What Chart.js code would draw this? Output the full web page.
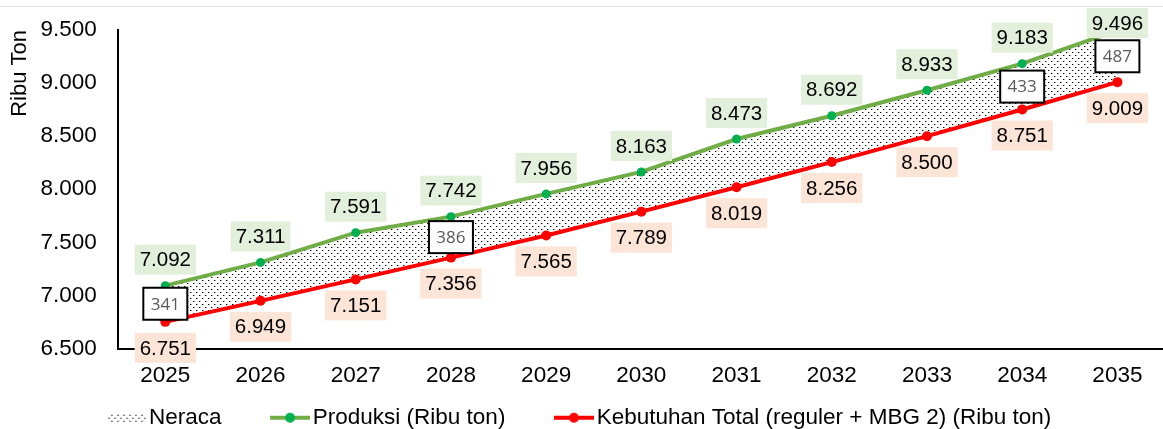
<!DOCTYPE html>
<html>
<head>
<meta charset="utf-8">
<title>Neraca Produksi dan Kebutuhan</title>
<script src="https://cdn.jsdelivr.net/npm/chart.js@4.4.1/dist/chart.umd.min.js"></script>
<style>
  html, body { margin: 0; padding: 0; background: #fff; overflow: hidden; }
  #wrap { position: relative; width: 1163px; height: 429px; overflow: hidden; }
  #garisAtas { position: absolute; left: 0; right: 0; top: 6px; border-top: 1px solid #e8e8e8; }
</style>
</head>
<body>
<div id="wrap">
  <div id="garisAtas"></div>
  <!-- kanvas sedikit lebih lebar: sumbu x di grafik asli terpotong di tepi kanan -->
  <canvas id="chartNeraca" width="1170" height="429"></canvas>
</div>
<script>
// ================= DATA =================
const tahun = ['2025', '2026', '2027', '2028', '2029', '2030', '2031', '2032', '2033', '2034', '2035'];
const produksi = [7092, 7311, 7591, 7742, 7956, 8163, 8473, 8692, 8933, 9183, 9496];
const kebutuhan = [6751, 6949, 7151, 7356, 7565, 7789, 8019, 8256, 8500, 8751, 9009];
// selisih yang diberi kotak pada grafik asli (tahun lain tidak diberi label)
const neraca = [341, null, null, 386, null, null, null, null, null, 433, 487];

const HIJAU_GARIS = '#70ad47';
const HIJAU_TITIK = '#00b050';
const MERAH = '#ff0000';

const PAD_LEG = 4;      // padding legend
const LEBAR_SIMBOL = 76; // pointStyleWidth legend

Chart.defaults.font.family = '"Liberation Sans", Arial, sans-serif';
Chart.defaults.color = '#000';

// format angka ribuan pakai titik: 7092 -> 7.092
function fmt(v) {
  return String(v).replace(/\B(?=(\d{3})+(?!\d))/g, '.');
}

// ================= POLA TITIK (NERACA) =================
function buatPola() {
  const c = document.createElement('canvas');
  c.width = 6; c.height = 6;
  const g = c.getContext('2d');
  g.fillStyle = '#fff';
  g.fillRect(0, 0, 6, 6);
  g.fillStyle = '#000';
  g.fillRect(1, 1, 1, 1);
  g.fillRect(4, 4, 1, 1);
  g.fillStyle = 'rgba(0,0,0,0.35)';
  g.fillRect(2, 1, 1, 1);
  g.fillRect(5, 4, 1, 1);
  return c;
}
const polaCanvas = buatPola();
const pola = polaCanvas.getContext('2d').createPattern(polaCanvas, 'repeat');

// simbol legend: isi digambar di sisi kanan supaya ada jarak antar item
const lebarGambar = Math.round(LEBAR_SIMBOL + 16.5);
function simbolNeraca() {
  const c = document.createElement('canvas');
  c.width = lebarGambar; c.height = 14;
  const g = c.getContext('2d');
  g.fillStyle = g.createPattern(polaCanvas, 'repeat');
  g.fillRect(lebarGambar - 39, 3, 39, 8);
  return c;
}
function simbolGaris(warnaGaris, warnaTitik) {
  const c = document.createElement('canvas');
  c.width = lebarGambar; c.height = 14;
  const g = c.getContext('2d');
  g.strokeStyle = warnaGaris;
  g.lineWidth = 4;
  g.beginPath();
  g.moveTo(lebarGambar - 40, 7);
  g.lineTo(lebarGambar, 7);
  g.stroke();
  g.fillStyle = warnaTitik;
  g.beginPath();
  g.arc(lebarGambar - 20, 7, 5, 0, Math.PI * 2);
  g.fill();
  return c;
}
const simbol = [simbolNeraca(), simbolGaris(HIJAU_GARIS, HIJAU_TITIK), simbolGaris(MERAH, MERAH)];

// ================= LABEL NILAI =================
function kotakLabel(ctx, teks, x, y, warna) {
  const w = ctx.measureText(teks).width + 10;
  const h = 30;
  ctx.fillStyle = warna;
  ctx.fillRect(x - w / 2, y - h / 2, w, h);
  ctx.fillStyle = '#000';
  ctx.fillText(teks, x, y + 1);
}

const labelPlugin = {
  id: 'labelNilai',
  afterLayout(chart) {
    // geser legend sedikit ke kiri seperti grafik asli
    chart.legend.left -= 57;
  },
  afterDatasetsDraw(chart) {
    const ctx = chart.ctx;
    const metaP = chart.getDatasetMeta(1);
    const metaK = chart.getDatasetMeta(2);
    ctx.save();
    ctx.textAlign = 'center';
    ctx.textBaseline = 'middle';
    ctx.font = '20.5px "Liberation Sans", Arial, sans-serif';

    tahun.forEach((t, i) => {
      const p = metaP.data[i];
      const k = metaK.data[i];
      kotakLabel(ctx, fmt(produksi[i]), p.x, Math.max(p.y - 26, 23), '#e2efda');
      kotakLabel(ctx, fmt(kebutuhan[i]), k.x, k.y + 26, '#fce4d6');
    });

    // kotak selisih neraca
    ctx.font = '17px "Open Sans", "DejaVu Sans", sans-serif';
    neraca.forEach((n, i) => {
      if (n === null) return;
      const p = metaP.data[i];
      const k = metaK.data[i];
      const cx = p.x;
      const cy = (p.y + k.y) / 2;
      ctx.fillStyle = '#fff';
      ctx.fillRect(cx - 22, cy - 16, 44, 32);
      ctx.strokeStyle = '#000';
      ctx.lineWidth = 2;
      ctx.strokeRect(cx - 22, cy - 16, 44, 32);
      ctx.fillStyle = '#595959';
      ctx.fillText(String(n), cx, cy + 1);
    });
    ctx.restore();
  }
};

// ================= CHART =================
const ctx = document.getElementById('chartNeraca').getContext('2d');
new Chart(ctx, {
  type: 'line',
  data: {
    labels: tahun,
    datasets: [
      {
        label: 'Neraca',
        data: produksi,
        fill: { target: 2 },
        backgroundColor: pola,
        borderColor: 'transparent',
        borderWidth: 0,
        pointRadius: 0,
        tension: 0
      },
      {
        label: 'Produksi (Ribu ton)',
        data: produksi,
        borderColor: HIJAU_GARIS,
        borderWidth: 4,
        pointRadius: 4.5,
        pointBackgroundColor: HIJAU_TITIK,
        pointBorderWidth: 0,
        fill: false,
        tension: 0
      },
      {
        label: 'Kebutuhan Total (reguler + MBG 2) (Ribu ton)',
        data: kebutuhan,
        borderColor: MERAH,
        borderWidth: 4,
        pointRadius: 5,
        pointBackgroundColor: MERAH,
        pointBorderWidth: 0,
        fill: false,
        tension: 0
      }
    ]
  },
  options: {
    responsive: false,
    animation: false,
    layout: { padding: { top: 30, left: 0, right: 0, bottom: -10 } },
    scales: {
      x: {
        offset: true,
        grid: { display: false, drawTicks: false },
        border: { display: true, color: '#000', width: 2 },
        ticks: { font: { size: 22.5 }, color: '#000', padding: 13.5 }
      },
      y: {
        min: 6500,
        max: 9500,
        grid: { display: false, drawTicks: false },
        border: { display: true, color: '#000', width: 2 },
        ticks: {
          stepSize: 500,
          font: { size: 22.5 },
          color: '#000',
          padding: 21,
          callback: (v) => fmt(v)
        },
        // padding label tick ikut menambah jarak atas, dikurangi di sini
        afterFit: (scale) => { scale.paddingTop = 15; },
        title: {
          display: true,
          text: 'Ribu Ton',
          align: 'end',
          font: { size: 22 },
          color: '#000',
          padding: { top: 7, bottom: -14 }
        }
      }
    },
    plugins: {
      filler: { drawTime: 'beforeDatasetsDraw' },
      tooltip: { enabled: false },
      legend: {
        position: 'bottom',
        labels: {
          usePointStyle: true,
          pointStyleWidth: LEBAR_SIMBOL,
          padding: PAD_LEG,
          font: { size: 22.5 },
          color: '#000',
          generateLabels: (chart) => chart.data.datasets.map((ds, i) => ({
            text: ds.label,
            pointStyle: simbol[i],
            fillStyle: 'transparent',
            strokeStyle: 'transparent',
            lineWidth: 0,
            hidden: false,
            datasetIndex: i,
            fontColor: '#000'
          }))
        }
      }
    }
  },
  plugins: [labelPlugin]
});
</script>
</body>
</html>
